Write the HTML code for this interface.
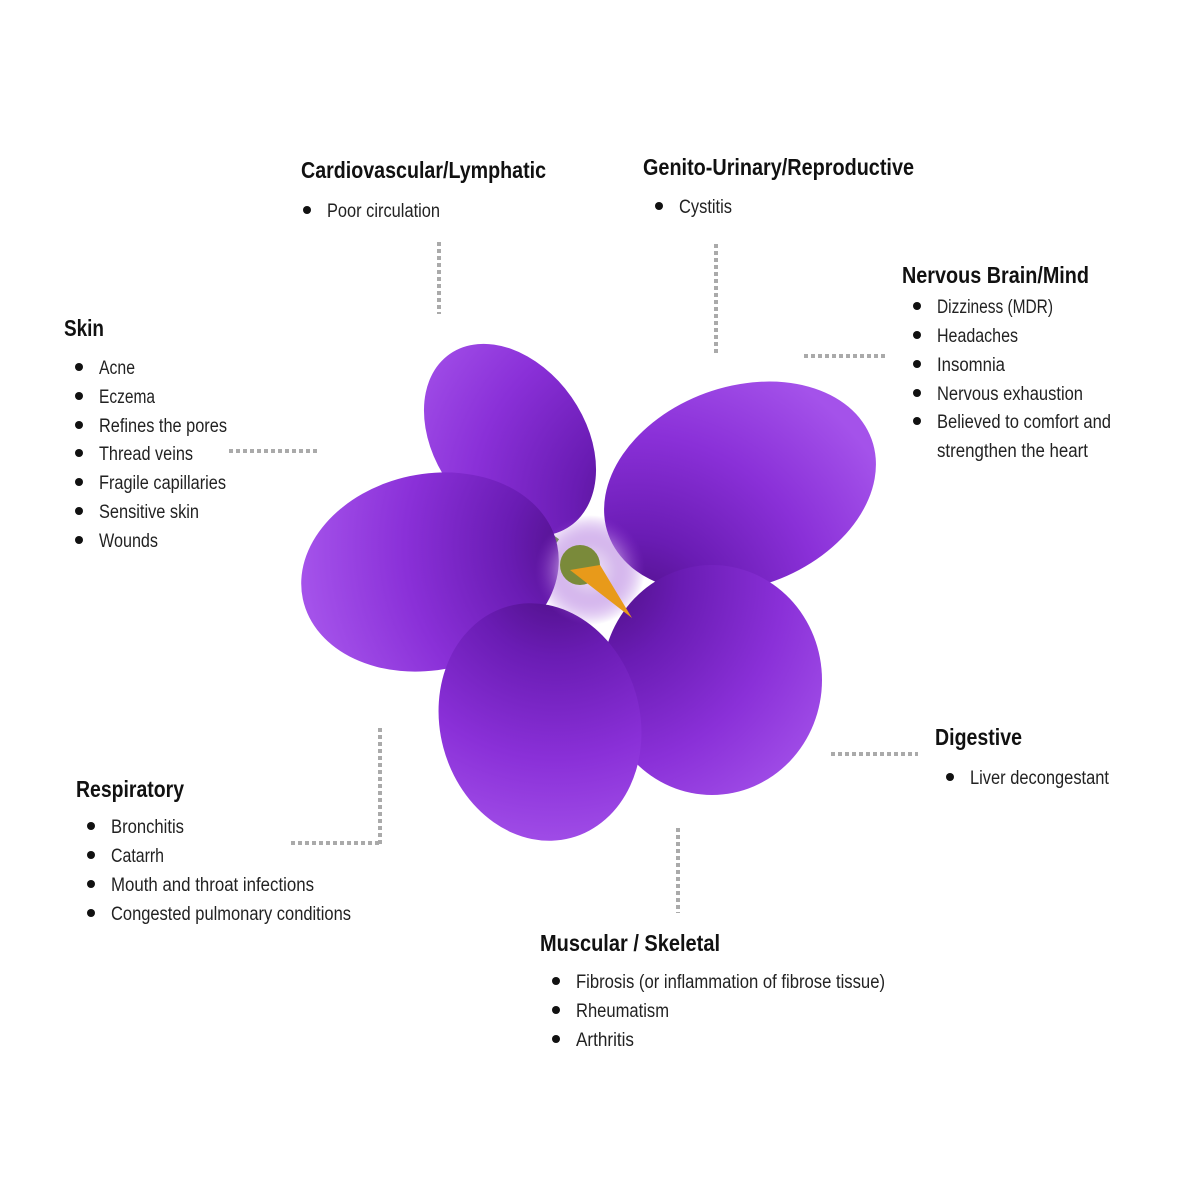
<!DOCTYPE html>
<html><head><meta charset="utf-8"><style>
html,body{margin:0;padding:0;background:#fff;}
svg{display:block}
.h{font-family:"Liberation Sans",sans-serif;font-weight:bold;font-size:23px;fill:#111}
.t{font-family:"Liberation Sans",sans-serif;font-size:19px;fill:#222}
.d{stroke:#aaa;stroke-width:4;stroke-dasharray:4 3;fill:none}
</style></head><body>
<svg width="1200" height="1200" viewBox="0 0 1200 1200" xmlns="http://www.w3.org/2000/svg">
<defs>
<radialGradient id="p" gradientUnits="userSpaceOnUse" cx="595" cy="580" r="290">
<stop offset="0" stop-color="#4a0e80"/><stop offset="0.3" stop-color="#6a1cb4"/><stop offset="0.65" stop-color="#8a30d8"/><stop offset="1" stop-color="#a452ea"/></radialGradient>
<radialGradient id="c" cx="0.5" cy="0.5" r="0.5">
<stop offset="0" stop-color="#f4ecf8"/><stop offset="0.45" stop-color="#d0b0ea" stop-opacity="0.85"/><stop offset="1" stop-color="#8a30d0" stop-opacity="0"/></radialGradient>
</defs>
<path class="d" d="M439 242V314"/>
<path class="d" d="M716 244V354"/>
<path class="d" d="M804 356H885"/>
<path class="d" d="M229 451H317"/>
<path class="d" d="M380 728V845M291 843H380"/>
<path class="d" d="M831 754H918"/>
<path class="d" d="M678 828V913"/>
<path d="M490 480 L520 520 L555 545" stroke="#6a9a3a" stroke-width="14" fill="none"/>
<ellipse cx="510" cy="440" rx="75" ry="105" transform="rotate(-35 510 440)" fill="url(#p)"/>
<ellipse cx="740" cy="487" rx="140" ry="100" transform="rotate(-20 740 487)" fill="url(#p)"/>
<ellipse cx="430" cy="572" rx="130" ry="98" transform="rotate(-12 430 572)" fill="url(#p)"/>
<ellipse cx="712" cy="680" rx="110" ry="115" fill="url(#p)"/>
<ellipse cx="540" cy="722" rx="100" ry="120" transform="rotate(-15 540 722)" fill="url(#p)"/>
<circle cx="590" cy="570" r="55" fill="url(#c)"/>
<circle cx="580" cy="565" r="20" fill="#7a8a3a"/>
<path d="M570 570 L600 565 L632 618 Z" fill="#e89a1a"/>
<text class="h" x="301" y="178" textLength="245" lengthAdjust="spacingAndGlyphs">Cardiovascular/Lymphatic</text>
<text class="h" x="643" y="175" textLength="271" lengthAdjust="spacingAndGlyphs">Genito-Urinary/Reproductive</text>
<text class="h" x="902" y="283" textLength="187" lengthAdjust="spacingAndGlyphs">Nervous Brain/Mind</text>
<text class="h" x="64" y="336" textLength="40" lengthAdjust="spacingAndGlyphs">Skin</text>
<text class="h" x="76" y="797" textLength="108" lengthAdjust="spacingAndGlyphs">Respiratory</text>
<text class="h" x="935" y="745" textLength="87" lengthAdjust="spacingAndGlyphs">Digestive</text>
<text class="h" x="540" y="951" textLength="180" lengthAdjust="spacingAndGlyphs">Muscular / Skeletal</text>
<g fill="#111">
<circle cx="307" cy="210" r="4"/><circle cx="659" cy="206" r="4"/>
<circle cx="917" cy="306" r="4"/><circle cx="917" cy="335" r="4"/><circle cx="917" cy="364" r="4"/><circle cx="917" cy="393" r="4"/><circle cx="917" cy="421" r="4"/>
<circle cx="79" cy="367" r="4"/><circle cx="79" cy="396" r="4"/><circle cx="79" cy="425" r="4"/><circle cx="79" cy="453" r="4"/><circle cx="79" cy="482" r="4"/><circle cx="79" cy="511" r="4"/><circle cx="79" cy="540" r="4"/>
<circle cx="91" cy="826" r="4"/><circle cx="91" cy="855" r="4"/><circle cx="91" cy="884" r="4"/><circle cx="91" cy="913" r="4"/>
<circle cx="950" cy="777" r="4"/>
<circle cx="556" cy="981" r="4"/><circle cx="556" cy="1010" r="4"/><circle cx="556" cy="1039" r="4"/>
</g>
<g class="t">
<text class="t" x="327" y="217" textLength="113" lengthAdjust="spacingAndGlyphs">Poor circulation</text>
<text class="t" x="679" y="213" textLength="53" lengthAdjust="spacingAndGlyphs">Cystitis</text>
<text class="t" x="937" y="313" textLength="116" lengthAdjust="spacingAndGlyphs">Dizziness (MDR)</text>
<text class="t" x="937" y="342" textLength="81" lengthAdjust="spacingAndGlyphs">Headaches</text>
<text class="t" x="937" y="371" textLength="68" lengthAdjust="spacingAndGlyphs">Insomnia</text>
<text class="t" x="937" y="400" textLength="146" lengthAdjust="spacingAndGlyphs">Nervous exhaustion</text>
<text class="t" x="937" y="428" textLength="174" lengthAdjust="spacingAndGlyphs">Believed to comfort and</text>
<text class="t" x="937" y="457" textLength="151" lengthAdjust="spacingAndGlyphs">strengthen the heart</text>
<text class="t" x="99" y="374" textLength="36" lengthAdjust="spacingAndGlyphs">Acne</text>
<text class="t" x="99" y="403" textLength="56" lengthAdjust="spacingAndGlyphs">Eczema</text>
<text class="t" x="99" y="432" textLength="128" lengthAdjust="spacingAndGlyphs">Refines the pores</text>
<text class="t" x="99" y="460" textLength="94" lengthAdjust="spacingAndGlyphs">Thread veins</text>
<text class="t" x="99" y="489" textLength="127" lengthAdjust="spacingAndGlyphs">Fragile capillaries</text>
<text class="t" x="99" y="518" textLength="100" lengthAdjust="spacingAndGlyphs">Sensitive skin</text>
<text class="t" x="99" y="547" textLength="59" lengthAdjust="spacingAndGlyphs">Wounds</text>
<text class="t" x="111" y="833" textLength="73" lengthAdjust="spacingAndGlyphs">Bronchitis</text>
<text class="t" x="111" y="862" textLength="53" lengthAdjust="spacingAndGlyphs">Catarrh</text>
<text class="t" x="111" y="891" textLength="203" lengthAdjust="spacingAndGlyphs">Mouth and throat infections</text>
<text class="t" x="111" y="920" textLength="240" lengthAdjust="spacingAndGlyphs">Congested pulmonary conditions</text>
<text class="t" x="970" y="784" textLength="139" lengthAdjust="spacingAndGlyphs">Liver decongestant</text>
<text class="t" x="576" y="988" textLength="309" lengthAdjust="spacingAndGlyphs">Fibrosis (or inflammation of fibrose tissue)</text>
<text class="t" x="576" y="1017" textLength="93" lengthAdjust="spacingAndGlyphs">Rheumatism</text>
<text class="t" x="576" y="1046" textLength="58" lengthAdjust="spacingAndGlyphs">Arthritis</text>
</g>
</svg>
</body></html>
